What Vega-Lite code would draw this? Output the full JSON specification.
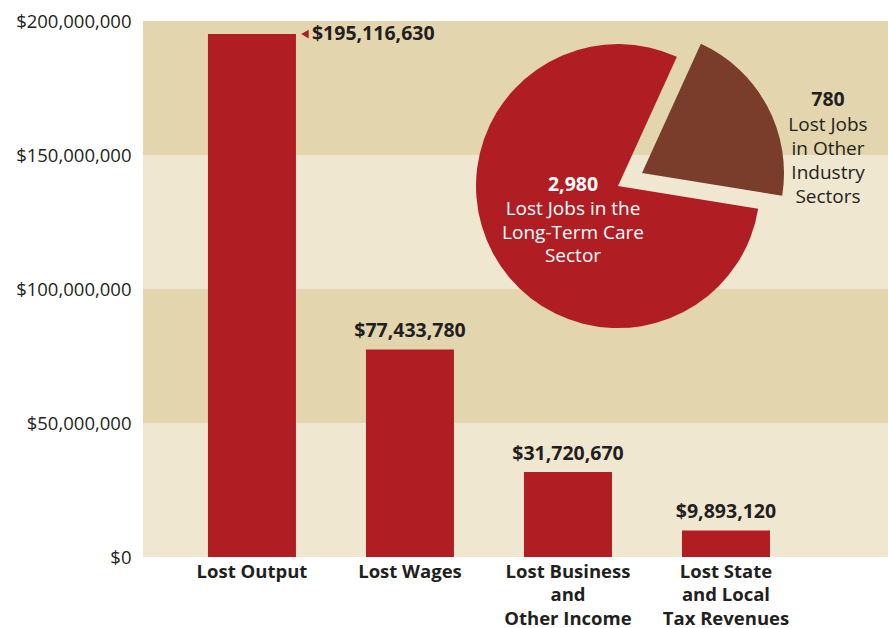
{
  "$schema": "https://vega.github.io/schema/vega-lite/v6.json",
  "width": 745,
  "height": 536,
  "autosize": {"type": "none"},
  "padding": {"left": 143, "top": 21, "right": 0, "bottom": 71},
  "background": "white",
  "config": {"view": {"stroke": null}, "font": "Open Sans"},
  "datasets": {
    "bands": [
      {"lo": 0, "hi": 50000000, "shade": "light"},
      {"lo": 50000000, "hi": 100000000, "shade": "dark"},
      {"lo": 100000000, "hi": 150000000, "shade": "light"},
      {"lo": 150000000, "hi": 200000000, "shade": "dark"}
    ],
    "losses": [
      {"category": "Lost Output", "amount": 195116630},
      {"category": "Lost Wages", "amount": 77433780},
      {"category": "Lost Business and Other Income", "amount": 31720670},
      {"category": "Lost State and Local Tax Revenues", "amount": 9893120}
    ],
    "jobs": [
      {"sector": "Long-Term Care", "jobs": 2980, "desc": "Lost Jobs in the\nLong-Term Care\nSector"},
      {"sector": "Other Industry", "jobs": 780, "desc": "Lost Jobs\nin Other\nIndustry\nSectors"}
    ]
  },
  "layer": [
    {
      "data": {"name": "bands"},
      "mark": {"type": "rect"},
      "encoding": {
        "y": {
          "field": "lo", "type": "quantitative",
          "scale": {"domain": [0, 200000000], "nice": false},
          "axis": {
            "title": null,
            "values": [0, 50000000, 100000000, 150000000, 200000000],
            "format": "$,.0f",
            "labelFont": "Open Sans",
            "labelFontSize": 18.5,
            "labelColor": "#231f20",
            "labelPadding": 12,
            "labelOverlap": false,
            "labelBound": false,
            "ticks": false,
            "domain": false,
            "grid": false
          }
        },
        "y2": {"field": "hi"},
        "color": {
          "field": "shade", "type": "nominal",
          "scale": {"domain": ["light", "dark"], "range": ["#f0e7d1", "#e3d5ae"]},
          "legend": null
        }
      }
    },
    {
      "data": {"name": "losses"},
      "encoding": {
        "x": {
          "field": "category", "type": "nominal", "sort": null,
          "scale": {"paddingInner": 0.443, "paddingOuter": 0.579, "align": 0.355},
          "axis": {
            "title": null,
            "labelAngle": 0,
            "ticks": false,
            "domain": false,
            "labelFont": "Open Sans",
            "labelFontSize": 18.5,
            "labelFontWeight": "bold",
            "labelColor": "#231f20",
            "labelPadding": 5,
            "labelLineHeight": 23.5,
            "labelExpr": "datum.value == 'Lost Business and Other Income' ? ['Lost Business', 'and', 'Other Income'] : datum.value == 'Lost State and Local Tax Revenues' ? ['Lost State', 'and Local', 'Tax Revenues'] : datum.value"
          }
        }
      },
      "layer": [
        {
          "mark": {"type": "bar", "color": "#b01e24"},
          "encoding": {"y": {"field": "amount", "type": "quantitative", "axis": {"title": null}}}
        },
        {
          "transform": [{"filter": "datum.category == 'Lost Output'"}],
          "mark": {"type": "point", "shape": "triangle-left", "filled": true, "opacity": 1, "color": "#b01e24", "size": 75, "xOffset": 53},
          "encoding": {"y": {"field": "amount", "type": "quantitative"}}
        },
        {
          "transform": [{"filter": "datum.category == 'Lost Output'"}],
          "mark": {"type": "text", "align": "left", "baseline": "middle", "dx": 60, "dy": 0, "fontSize": 19.5, "fontWeight": "bold", "color": "#231f20"},
          "encoding": {
            "y": {"field": "amount", "type": "quantitative"},
            "text": {"field": "amount", "type": "quantitative", "format": "$,.0f"}
          }
        },
        {
          "transform": [{"filter": "datum.category != 'Lost Output'"}],
          "mark": {"type": "text", "align": "center", "baseline": "alphabetic", "dy": -12, "fontSize": 19.5, "fontWeight": "bold", "color": "#231f20"},
          "encoding": {
            "y": {"field": "amount", "type": "quantitative"},
            "text": {"field": "amount", "type": "quantitative", "format": "$,.0f"}
          }
        }
      ]
    },
    {
      "data": {"name": "jobs"},
      "transform": [
        {"stack": "jobs", "groupby": [], "sort": [{"field": "jobs", "order": "ascending"}], "as": ["j0", "j1"]}
      ],
      "encoding": {
        "x": {"datum": 0.6376, "type": "quantitative", "scale": {"domain": [0, 1]}, "axis": null},
        "y": {"datum": 138400000, "type": "quantitative"}
      },
      "layer": [
        {
          "transform": [{"filter": "datum.sector == 'Long-Term Care'"}],
          "mark": {"type": "arc", "outerRadius": 142, "color": "#b01e24"},
          "encoding": {
            "theta": {"field": "j0", "type": "quantitative", "scale": {"domain": [0, 3760], "range": [0.4276, 6.7108]}},
            "theta2": {"field": "j1"}
          }
        },
        {
          "transform": [{"filter": "datum.sector == 'Other Industry'"}],
          "mark": {"type": "arc", "outerRadius": 142, "color": "#7a3c2b", "xOffset": 24, "yOffset": -13},
          "encoding": {
            "theta": {"field": "j0", "type": "quantitative"},
            "theta2": {"field": "j1"}
          }
        },
        {
          "transform": [{"filter": "datum.sector == 'Long-Term Care'"}],
          "mark": {"type": "text", "dx": -45, "dy": -1, "fontSize": 19.5, "fontWeight": "bold", "color": "white"},
          "encoding": {"text": {"field": "jobs", "type": "quantitative", "format": ","}}
        },
        {
          "transform": [{"filter": "datum.sector == 'Long-Term Care'"}],
          "mark": {"type": "text", "dx": -45, "dy": 23, "fontSize": 19, "color": "white", "lineBreak": "\n", "lineHeight": 23.5},
          "encoding": {"text": {"field": "desc", "type": "nominal"}}
        },
        {
          "transform": [{"filter": "datum.sector == 'Other Industry'"}],
          "mark": {"type": "text", "dx": 210, "dy": -86, "fontSize": 19.5, "fontWeight": "bold", "color": "#231f20"},
          "encoding": {"text": {"field": "jobs", "type": "quantitative", "format": ","}}
        },
        {
          "transform": [{"filter": "datum.sector == 'Other Industry'"}],
          "mark": {"type": "text", "dx": 210, "dy": -61, "fontSize": 19, "color": "#231f20", "lineBreak": "\n", "lineHeight": 24},
          "encoding": {"text": {"field": "desc", "type": "nominal"}}
        }
      ]
    }
  ],
  "resolve": {"scale": {"x": "independent", "color": "independent"}}
}
